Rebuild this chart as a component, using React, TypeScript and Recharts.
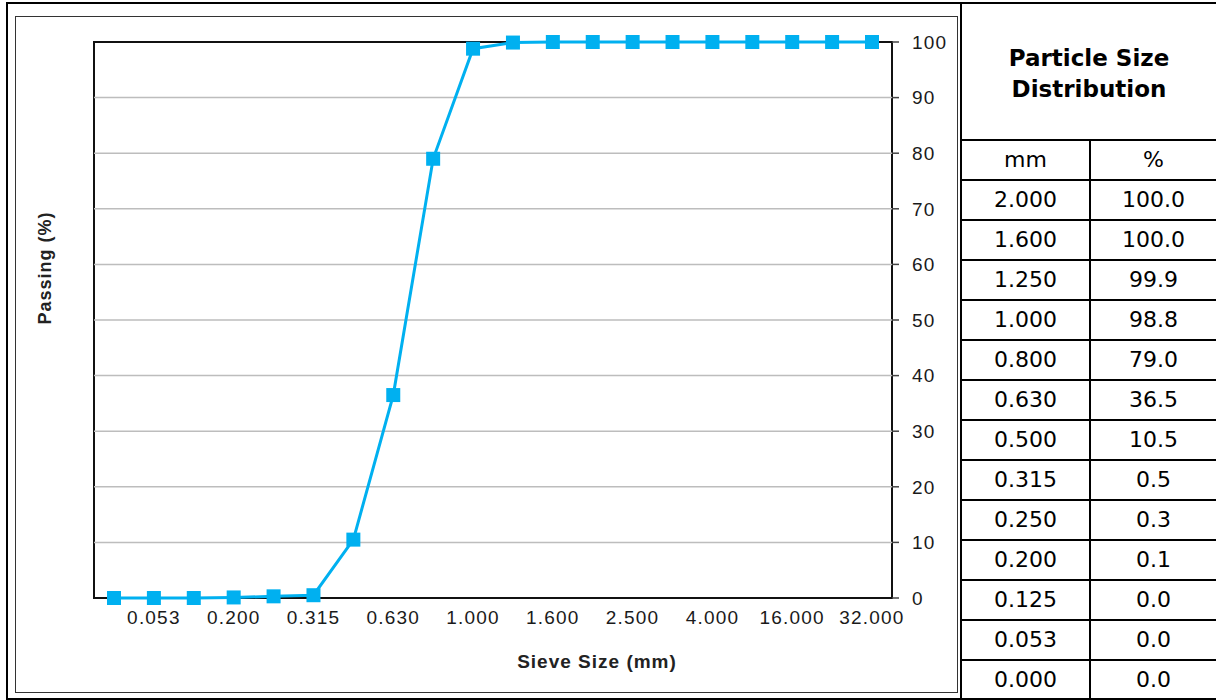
import { CartesianGrid, Line, LineChart, XAxis, YAxis } from "recharts";

// sieve sizes (mm) along the x axis, left to right
const sieveSizes = [
  "0.000", "0.053", "0.125", "0.200", "0.250", "0.315", "0.500", "0.630", "0.800", "1.000",
  "1.250", "1.600", "2.000", "2.500", "3.150", "4.000", "8.000", "16.000", "25.000", "32.000",
];
// % passing for each sieve
const passing = [0, 0, 0, 0.1, 0.3, 0.5, 10.5, 36.5, 79.0, 98.8, 99.9, 100, 100, 100, 100, 100, 100, 100, 100, 100];
const yTicks = [0, 10, 20, 30, 40, 50, 60, 70, 80, 90, 100];
const gridValues = [10, 20, 30, 40, 50, 60, 70, 80, 90];

const chartData = sieveSizes.map((size, i) => ({ size, passing: passing[i] }));

// table shows the sieves up to 2 mm, largest first
const tableRows = chartData
  .filter((d) => parseFloat(d.size) <= 2)
  .reverse()
  .map((d) => ({ mm: d.size, pct: d.passing.toFixed(1) }));

const BLUE = "#00B0F0";
const ARIAL = "'Liberation Sans', Arial, sans-serif";
const TAHOMA = "'DejaVu Sans', Verdana, sans-serif";

const tickStyle = { fontFamily: ARIAL, fontSize: 19, fill: "#1a1a1a", letterSpacing: 1.2 };

function SquareDot(props: any) {
  const { cx, cy, index } = props;
  if (cx == null || cy == null) return null;
  return <rect key={index} x={cx - 7} y={cy - 7} width={14} height={14} fill={BLUE} />;
}

export default function App() {
  return (
    <div style={{ position: "absolute", left: 0, top: 0, width: 1216, height: 700, background: "#fff", overflow: "hidden" }}>
      {/* outer frame */}
      <div
        style={{
          position: "absolute", left: 6, top: 2, width: 1220, height: 698, boxSizing: "border-box",
          borderTop: "2px solid #000", borderLeft: "2px solid #000", borderBottom: "2px solid #000",
        }}
      />
      {/* chart frame */}
      <div style={{ position: "absolute", left: 15, top: 16, width: 943, height: 677, boxSizing: "border-box", border: "1px solid #333" }} />
      {/* divider */}
      <div style={{ position: "absolute", left: 960, top: 2, width: 2, height: 698, background: "#000" }} />

      {/* plot border (behind the svg) */}
      <div style={{ position: "absolute", left: 93, top: 41, width: 800, height: 558, boxSizing: "border-box", border: "2px solid #111" }} />

      <div style={{ position: "absolute", left: 0, top: 0, zIndex: 1 }}>
        <LineChart width={960} height={700} data={chartData} margin={{ top: 42, left: 94, right: 8, bottom: 62 }}>
          <CartesianGrid vertical={false} horizontalValues={gridValues} stroke="#bdbdbd" strokeWidth={1.5} />
          <XAxis
            dataKey="size"
            interval={0}
            padding={{ left: 20, right: 20 }}
            tickFormatter={(v: string, i: number) => (i % 2 === 1 ? v : "")}
            axisLine={false}
            tickLine={false}
            tickSize={0}
            tickMargin={13}
            height={40}
            tick={tickStyle}
          />
          <YAxis
            orientation="right"
            domain={[0, 100]}
            ticks={yTicks}
            interval={0}
            axisLine={false}
            tickLine={{ stroke: "#444", strokeWidth: 1.5 }}
            tickSize={7}
            tickMargin={13}
            width={60}
            tick={{ ...tickStyle, textAnchor: "start" }}
          />
          <Line
            type="linear"
            dataKey="passing"
            stroke={BLUE}
            strokeWidth={3}
            dot={<SquareDot />}
            activeDot={false}
            isAnimationActive={false}
          />
        </LineChart>
      </div>

      {/* axis titles */}
      <div
        style={{
          position: "absolute", left: 487, top: 651, width: 220, textAlign: "center",
          fontFamily: ARIAL, fontWeight: "bold", fontSize: 19, letterSpacing: 1, color: "#222", zIndex: 2,
        }}
      >
        Sieve Size (mm)
      </div>
      <div
        style={{
          position: "absolute", left: 45, top: 268, width: 0, height: 0, zIndex: 2,
        }}
      >
        <div
          style={{
            position: "absolute", left: -80, top: -11, width: 160, textAlign: "center", transform: "rotate(-90deg)",
            fontFamily: ARIAL, fontWeight: "bold", fontSize: 18, letterSpacing: 1, color: "#222", lineHeight: "22px",
          }}
        >
          Passing (%)
        </div>
      </div>

      {/* table */}
      <div style={{ position: "absolute", left: 962, top: 4, width: 254, fontFamily: TAHOMA, color: "#000" }}>
        <div
          style={{
            height: 135, boxSizing: "border-box", paddingTop: 39, textAlign: "center",
            fontWeight: "bold", fontSize: 23, lineHeight: "31px",
          }}
        >
          Particle Size
          <br />
          Distribution
        </div>
        {[{ mm: "mm", pct: "%" }, ...tableRows].map((r, i) => (
          <div key={i} style={{ display: "flex", height: 40, boxSizing: "border-box", borderTop: "2px solid #000", fontSize: 22 }}>
            <div style={{ width: 129, boxSizing: "border-box", borderRight: "2px solid #000", textAlign: "center", lineHeight: "38px" }}>
              {r.mm}
            </div>
            <div style={{ flex: 1, textAlign: "center", lineHeight: "38px" }}>{r.pct}</div>
          </div>
        ))}
      </div>
    </div>
  );
}
